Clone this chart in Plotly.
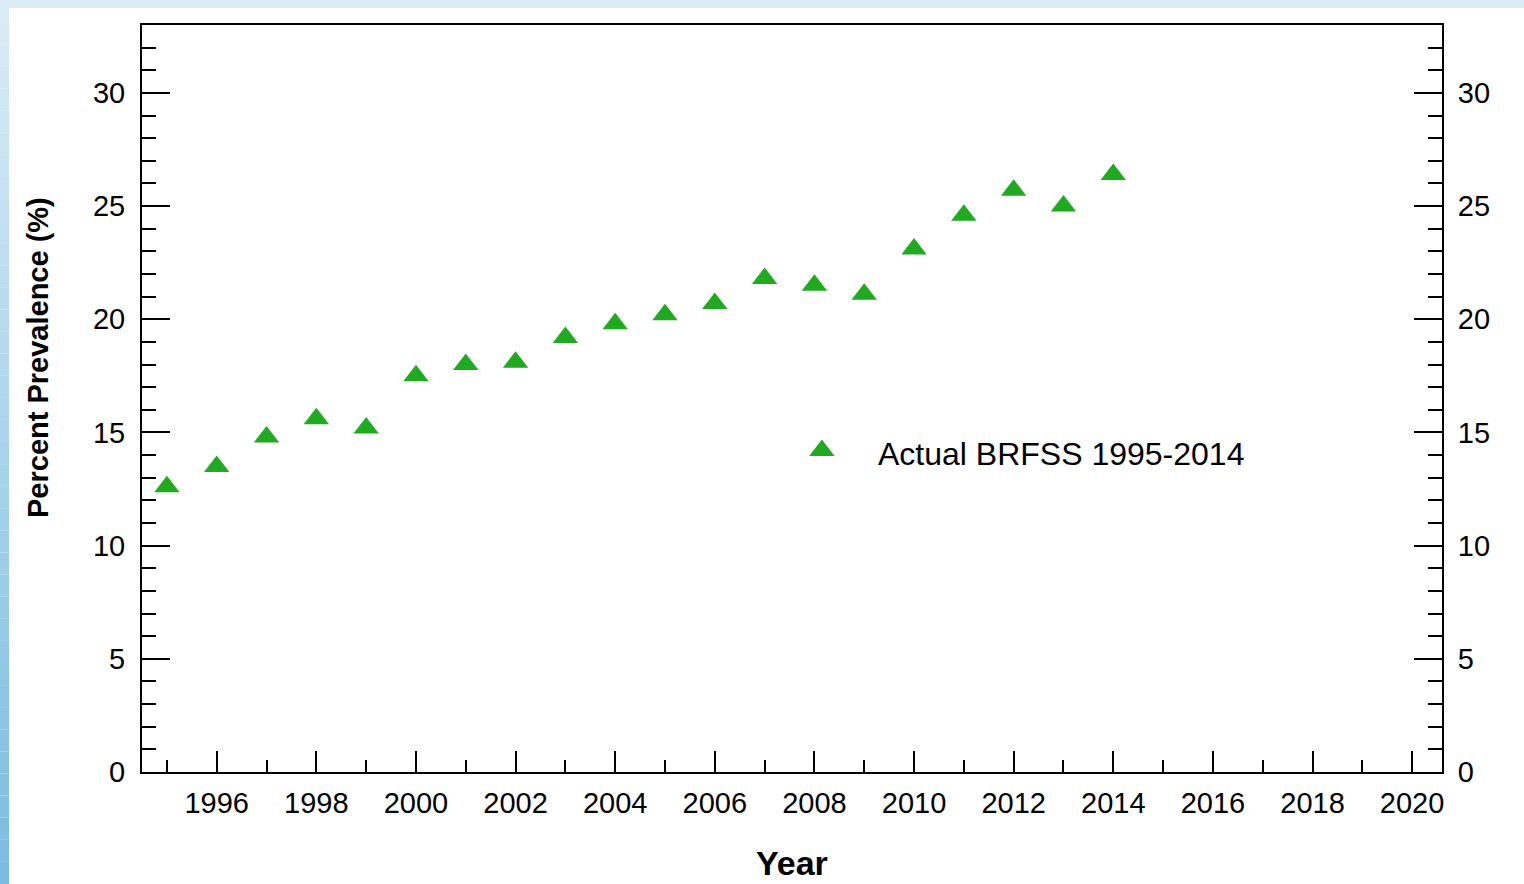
import plotly.graph_objects as go

# BRFSS observed prevalence by survey year
years = [1995, 1996, 1997, 1998, 1999, 2000, 2001, 2002, 2003, 2004,
         2005, 2006, 2007, 2008, 2009, 2010, 2011, 2012, 2013, 2014]
prevalence = [12.6, 13.5, 14.8, 15.6, 15.2, 17.5, 18.0, 18.1, 19.2, 19.8,
              20.2, 20.7, 21.8, 21.5, 21.1, 23.1, 24.6, 25.7, 25.0, 26.4]
series_name = "Actual BRFSS 1995-2014"

x_ticks = list(range(1996, 2021, 2))
y_ticks = [0, 5, 10, 15, 20, 25, 30]

# position of the in-plot key (data units)
key_x, key_y = 2008.15, 14.2

W, H = 1524, 884
L, R, T, B = 142, 82, 25, 112
PW, PH = W - L - R, H - T - B

GREEN = "#1faa1f"
FONT = "Liberation Sans, Arial, sans-serif"
MARKER = dict(symbol="triangle-up", size=22, color=GREEN, line=dict(width=0))


def px_x(px):
    return (px - L) / PW


def px_y(py):
    return (H - B - py) / PH


fig = go.Figure()
fig.add_trace(go.Scatter(x=years, y=prevalence, mode="markers", name=series_name,
                         marker=MARKER, showlegend=False))
# key symbol, same marker style as the series
fig.add_trace(go.Scatter(x=[key_x], y=[key_y], mode="markers", marker=MARKER,
                         showlegend=False, hoverinfo="skip"))
# right-hand axis carries the same scale
fig.add_trace(go.Scatter(x=years, y=prevalence, mode="markers", yaxis="y2", showlegend=False,
                         hoverinfo="skip", marker=dict(opacity=0)))

axis_common = dict(showgrid=False, zeroline=False, showline=True, linecolor="black",
                   linewidth=2, tickcolor="black", tickwidth=2, automargin=False,
                   tickfont=dict(family=FONT, size=29, color="black"))
minor_y = dict(dtick=1, tick0=0, ticks="inside", ticklen=14, tickcolor="black", tickwidth=2)

fig.update_layout(
    width=W, height=H,
    margin=dict(l=L, r=R, t=T, b=B, pad=0),
    paper_bgcolor="white", plot_bgcolor="white",
    font=dict(family=FONT, color="black"),
    showlegend=False,
    xaxis=dict(range=[1994.5, 2020.6], tickvals=x_ticks, ticks="inside", ticklen=21,
               mirror=True, ticklabelstandoff=4,
               minor=dict(dtick=1, tick0=1995, ticks="inside", ticklen=12,
                          tickcolor="black", tickwidth=2),
               **axis_common),
    yaxis=dict(range=[0, 33], tickvals=y_ticks, ticks="inside", ticklen=28,
               ticklabelstandoff=9, minor=minor_y, **axis_common),
    yaxis2=dict(range=[0, 33], tickvals=y_ticks, ticks="inside", ticklen=28,
                overlaying="y", side="right", ticklabelstandoff=8, minor=minor_y,
                **axis_common),
)

fig.add_annotation(text=series_name, xref="paper", yref="paper",
                   x=px_x(876), y=px_y(454), xanchor="left", yanchor="middle",
                   showarrow=False, font=dict(family=FONT, size=32, color="black"))
fig.add_annotation(text="<b>Year</b>", xref="paper", yref="paper",
                   x=px_x(792), y=px_y(863), xanchor="center", yanchor="middle",
                   showarrow=False, font=dict(family=FONT, size=34, color="black"))
fig.add_annotation(text="<b>Percent Prevalence (%)</b>", textangle=-90,
                   xref="paper", yref="paper", x=px_x(38), y=px_y(358),
                   xanchor="center", yanchor="middle",
                   showarrow=False, font=dict(family=FONT, size=29, color="black"))

# light blue frame along the top and left edges
shapes = [dict(type="rect", xref="paper", yref="paper", layer="below",
               x0=px_x(0), x1=px_x(W), y0=px_y(8), y1=px_y(0),
               fillcolor="#dcecf7", line=dict(width=0))]
n = 40
c0, c1 = (0xd9, 0xeb, 0xf7), (0x7c, 0xbc, 0xe0)
for i in range(n):
    t = i / (n - 1)
    col = "rgb(%d,%d,%d)" % tuple(round(a + (b - a) * t) for a, b in zip(c0, c1))
    shapes.append(dict(type="rect", xref="paper", yref="paper", layer="below",
                       x0=px_x(0), x1=px_x(9),
                       y0=px_y(H * (i + 1) / n), y1=px_y(H * i / n),
                       fillcolor=col, line=dict(width=0)))
fig.update_layout(shapes=shapes)

fig.write_html("out.html")
